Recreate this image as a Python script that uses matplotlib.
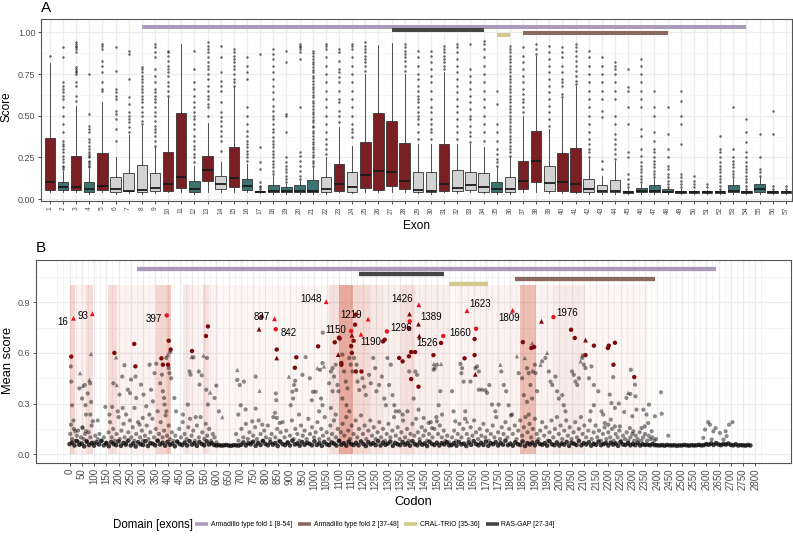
import numpy as np
import matplotlib
matplotlib.use("Agg")
import matplotlib.pyplot as plt
from matplotlib.lines import Line2D
from matplotlib.patches import Rectangle
from matplotlib.ticker import FixedLocator
from matplotlib import font_manager

plt.rcParams['font.family'] = ['Liberation Sans', 'DejaVu Sans']


def has_font(name):
    try:
        font_manager.findfont(font_manager.FontProperties(family=name), fallback_to_default=False)
        return True
    except Exception:
        return False

# ------------------------------------------------------------------ data A
exons = list(range(1, 58))
exon_group = (list("RTRTRGGGGRRTRGRTTTTTTGRGRRRRGGRGGGTGRRGRRGGG") + ["T"] * 13)
q1 = [.052, .052, .052, .042, .052, .04, .046, .04, .046, .05, .066, .04, .106, .06, .072, .055, .04, .04, .04, .04,
      .04, .04, .05, .044, .068, .056, .076, .06, .042, .04, .048, .046, .052, .044, .04, .04, .06, .10, .046, .046,
      .044, .042, .042, .04, .036, .04, .04, .04, .038, .036, .036, .036, .04, .036, .04, .036, .036]
med = [.10, .072, .075, .06, .08, .06, .05, .055, .065, .09, .133, .06, .175, .09, .125, .08, .045, .05, .05, .05,
       .05, .06, .09, .075, .145, .17, .165, .11, .055, .05, .09, .065, .085, .07, .06, .06, .11, .23, .095, .105,
       .09, .06, .05, .05, .04, .05, .05, .045, .042, .04, .04, .04, .05, .04, .06, .04, .04]
q3 = [.365, .10, .26, .10, .275, .13, .158, .204, .156, .28, .515, .108, .26, .138, .31, .12, .05, .084, .072, .082,
      .112, .13, .21, .165, .34, .515, .47, .335, .165, .162, .33, .175, .162, .156, .104, .13, .23, .407, .198, .275,
      .305, .122, .082, .116, .05, .066, .082, .058, .05, .046, .046, .048, .086, .048, .09, .046, .046]
whislo = [.04, .04, .04, .03, .04, .03, .035, .03, .035, .04, .04, .03, .04, .04, .04, .04, .035, .03, .03, .03,
          .03, .03, .04, .035, .04, .04, .04, .04, .035, .03, .04, .035, .04, .035, .03, .03, .04, .04, .035, .035,
          .035, .03, .03, .03, .03, .03, .03, .03, .03, .03, .03, .03, .03, .03, .03, .03, .03]
whishi = [.814, .17, .56, .18, .585, .255, .385, .44, .315, .61, .93, .2, .455, .22, .67, .21, .055, .14, .09, .11,
          .19, .25, .43, .32, .75, .925, .935, .75, .33, .33, .76, .33, .33, .31, .19, .25, .5, .86, .42, .6,
          .68, .24, .14, .23, .06, .09, .12, .065, .06, .055, .055, .055, .12, .055, .13, .055, .055]
outliers = [
    [.86],
    [.18, .19, .2, .22, .24, .26, .28, .3, .32, .33, .35, .4, .45, .5, .55, .6, .62, .64, .66, .68, .7, .85, .91],
    [.59, .62, .68, .7, .75, .76, .77, .78, .79, .88, .9, .91, .92, .93, .94],
    [.19, .2, .21, .22, .23, .25, .26, .27, .28, .3, .32, .34, .36, .4, .42, .44, .51, .75],
    [.65, .66, .7, .76, .8, .83, .9, .92, .93],
    [.35, .42, .48, .51, .53, .6, .62, .64, .66, .77, .91],
    [.4, .43, .46, .48, .5, .52, .57, .61, .72, .87, .89],
    [.45, .47, .5, .52, .55, .58, .6, .62, .64, .66, .68, .7, .72, .74, .76, .78, .79],
    [.32, .35, .38, .4, .42, .44, .47, .5, .52, .55, .58, .6, .62, .64, .66, .7, .74, .78, .85, .88, .91, .93],
    [.62, .65, .68, .7, .74, .76, .78, .8, .83, .86, .88, .89],
    [],
    [.22, .25, .27, .3, .32, .35, .38, .42, .45, .48, .5, .52, .55, .58, .62, .66, .7, .78, .89],
    [.5, .55, .57, .6, .62, .65, .68, .72, .75, .78, .8, .82, .85, .88, .9, .92, .94],
    [.29, .35, .38, .41, .44, .47, .49, .52, .58, .65, .68, .71, .76, .85, .92],
    [.68, .7, .72, .75, .78, .8, .82, .84, .86, .88, .9],
    [.23, .25, .27, .29, .31, .33, .35, .38, .41, .45, .5, .55, .72, .76, .8, .85],
    [.06, .07, .08, .1, .18, .22, .31, .87],
    [.15, .17, .19, .21, .23, .25, .27, .29, .31, .33, .35, .37, .4, .42, .45, .48, .5, .53, .56, .6, .64, .68, .72,
     .76, .8, .84, .87, .9],
    [.1, .12, .14, .16, .18, .2, .22, .25, .4, .5, .51, .82, .89],
    [.12, .14, .17, .2, .23, .26, .28, .55, .84, .88, .9, .91, .92, .93],
    [.2, .215, .23, .25, .265, .28, .3, .31, .33, .345, .36, .38, .395, .41, .43, .44, .46, .475, .49, .51, .525, .54,
     .56, .575, .59, .61, .625, .64, .66, .675, .69, .71, .725, .74, .76, .775, .79, .81, .825, .84, .86, .875, .89],
    [.27, .3, .33, .36, .4, .45, .5, .55, .6, .65, .7, .75, .8, .85, .9, .92, .93],
    [.46, .5, .53, .58, .6, .65, .7, .73, .76, .78, .83, .88, .9],
    [.37, .4, .42, .45, .5, .55, .6, .65, .7, .75, .8, .85, .9, .92, .93],
    [.77, .8, .82, .84, .86, .88, .9, .92, .94],
    [],
    [],
    [.77, .8, .83, .85, .87, .89, .91, .93],
    [.36, .4, .45, .48, .5, .52, .55, .58, .6, .62, .65, .68, .72, .75, .8, .85, .89],
    [.36, .4, .42, .45, .48, .52, .55, .6, .65, .7, .74, .78, .82, .86, .89],
    [.78, .8, .82, .84, .86, .88, .9, .92],
    [.36, .4, .44, .48, .52, .56, .6, .64, .68, .72, .76, .8, .84, .88, .91, .93],
    [.34, .38, .4, .44, .48, .5, .54, .58, .62, .66, .7, .74, .78, .93],
    [.35, .4, .45, .5, .55, .6, .65, .7, .75, .8, .85, .9, .93, .95],
    [.2, .22, .24, .27, .3, .35, .4, .45, .57, .65],
    [.26, .28, .3, .32, .34, .36, .38, .4, .42, .44, .46, .48, .5, .52, .54, .56, .58, .6, .62, .64, .66, .68, .7,
     .72, .74, .76, .78, .8, .82, .84, .86, .88, .9, .92],
    [.52, .55, .58, .6, .63, .66, .7, .74, .78, .82, .86, .91],
    [.87, .9, .93],
    [.44, .48, .52, .56, .6, .64, .68, .72, .76, .8, .84, .88, .92],
    [.61, .63, .68, .7, .72, .76, .8, .85, .88, .91],
    [.69, .71, .74, .77, .8, .83, .86, .89, .91, .93],
    [.25, .28, .3, .33, .36, .4, .45, .5, .55, .6, .65, .7, .75, .8, .85, .89],
    [.18, .23, .49, .53, .6, .65, .7, .75, .8, .85],
    [.24, .27, .3, .33, .36, .39, .45, .5, .6, .65, .7, .75, .78, .8, .82],
    [.07, .09, .12, .15, .25, .28, .45, .55, .65, .67, .78],
    [.1, .12, .14, .16, .18, .2, .22, .26, .3, .38, .42, .55, .6, .65, .7, .75, .8, .84],
    [.13, .15, .17, .19, .21, .23, .25, .28, .3, .35, .4, .5, .55, .65],
    [.07, .09, .11, .13, .15, .18, .2, .25, .3, .39, .55],
    [.07, .09, .11, .13, .15, .33, .45, .5, .59, .65],
    [.07, .09, .11, .14],
    [.07, .09],
    [.06, .08, .1, .12, .14, .16, .18, .2, .22, .25, .28, .3, .38],
    [.13, .15, .17, .19, .21, .23, .25, .3, .55],
    [.06, .08, .1, .12, .14, .16, .18, .2, .22, .25, .28, .34, .4, .48],
    [.14, .16, .18, .25, .39],
    [.06, .08, .39, .53],
    [.06, .08],
]

# ------------------------------------------------------------------ domains
dom_labels = ["Armadillo type fold 1 [8-54]", "Armadillo type fold 2 [37-48]",
              "CRAL-TRIO [35-36]", "RAS-GAP [27-34]"]
dom_exon_start = [8, 37, 35, 27]
dom_exon_end = [54, 48, 36, 34]
dom_codon_start = [276, 1818, 1550, 1180]
dom_codon_end = [2641, 2389, 1707, 1527]

# ------------------------------------------------------------------ data B
shade_start = [0, 22, 68, 158, 194, 353, 394, 462, 493, 545, 568, 612, 668, 750, 1061, 1102, 1157, 1228, 1282,
               1352, 1411, 1548, 1582, 1841, 1904, 1973, 2104]
shade_end = [22, 68, 95, 194, 353, 394, 416, 493, 545, 568, 612, 668, 750, 1061, 1102, 1157, 1228, 1282, 1352,
             1411, 1548, 1582, 1841, 1904, 1973, 2104, 2361]
shade_level = [0.26, 0.08, 0.22, 0.22, 0.08, 0.26, 0.34, 0.15, 0.08, 0.2, 0.08, 0.04, 0.06, 0.05, 0.2, 0.55,
               0.24, 0.15, 0.1, 0.2, 0.1, 0.03, 0.08, 0.42, 0.08, 0.13, 0.05]

# per-10-codon baseline scores (thousandths)
base_score = [v / 1000 for v in [
    60, 69, 52, 78, 56, 63, 47, 74, 55, 66, 51, 70, 58, 79, 53, 65, 48, 72, 61, 54, 76, 50, 67, 57, 81, 52, 64, 46,
    71, 59, 55, 77, 49, 66, 62, 53, 80, 58, 68, 51, 73, 56, 63, 47, 75, 60, 54, 69, 52, 78, 57, 65, 50, 72, 61, 53,
    76, 58, 66, 55,
    52, 54, 51, 53, 55, 52, 50, 54, 53, 51,
    56, 70, 52, 65, 59, 74, 50, 67, 55, 78, 61, 53, 71, 57, 66, 49, 75, 60, 54, 69, 52, 80, 58, 64, 51, 72, 56, 68,
    62, 53, 77, 55, 66, 50, 73, 59, 54, 70, 63, 52, 79, 57, 65, 51, 74, 60, 55, 68, 53, 76, 61, 49, 71, 58, 66, 54,
    78, 52, 69, 56, 63, 75, 50, 67, 59, 54, 72, 57, 65, 51, 77, 60, 53, 70, 56, 64, 49, 74, 61, 55, 68, 52, 66, 58,
    71, 53,
    54, 66, 51, 73, 58, 63, 49, 70, 56, 78, 61, 53, 68, 55, 75, 50, 65, 59, 72, 52, 67, 57, 80, 54, 63, 51, 71, 60,
    55, 76, 49, 66, 58, 69, 53, 74, 61, 56, 65, 51, 77, 59, 54, 70, 52, 64, 57, 73, 50, 68, 62, 55, 79, 53, 66, 58,
    71, 51, 63, 56, 75, 54, 60, 67, 52, 69, 57, 64, 50, 72, 58, 55, 66, 53, 61, 54, 68, 52, 59, 55, 57, 53, 60, 54,
    53, 52, 54, 51, 55, 53, 52, 54, 50, 53, 52, 55, 53, 51, 54, 52, 53, 56, 52, 54, 60, 56, 63, 55, 66, 58, 54, 61,
    57, 64, 55, 53, 59, 52, 54, 53, 51, 55, 52]]
base_codon = [10 * i for i in range(len(base_score))]

gray_circles = [
    (5, .52), (7, .43), (10, .29), (16, .20), (6, .175), (24, .136), (40, .39), (51, .33), (62, .41), (65, .29),
    (67, .235), (74, .36), (84, .42), (88, .31), (85, .235), (95, .195), (67, .136), (54, .155), (115, .20),
    (146, .28), (174, .28), (179, .42), (163, .235), (204, .353), (215, .46), (224, .527), (238, .382), (247, .362),
    (251, .442), (269, .46), (272, .333), (265, .274), (217, .274), (231, .235), (197, .254), (292, .412),
    (302, .353), (313, .284), (327, .53), (333, .382), (347, .48), (354, .536), (370, .42), (377, .471), (381, .373),
    (386, .333), (388, .294), (395, .57), (411, .604), (405, .51), (408, .48), (415, .45), (395, .254), (360, .254),
    (340, .313), (326, .235), (299, .215), (286, .175), (428, .333), (435, .254), (463, .235), (483, .294),
    (490, .49), (494, .471), (506, .574), (515, .22), (528, .49), (531, .412), (540, .467), (561, .57), (565, .294),
    (558, .382), (599, .406), (592, .333), (610, .254),
    (685, .44), (695, .41), (712, .43), (699, .29), (689, .235), (719, .265), (760, .46), (760, .27), (746, .195),
    (787, .175), (842, .36), (844, .32), (839, .245), (846, .215), (858, .185), (903, .29), (910, .37), (917, .41),
    (921, .435), (926, .38), (913, .33), (937, .235), (951, .47), (964, .575), (981, .45), (989, .32), (994, .37),
    (1005, .37), (1023, .50), (1033, .54), (1027, .33), (1033, .29), (1019, .254), (1034, .72), (1060, .42),
    (1067, .49), (1074, .51), (1080, .46), (1087, .53), (1074, .373), (1094, .41), (1098, .373), (1067, .274),
    (1087, .235), (1114, .59), (1121, .49), (1128, .43), (1135, .39), (1142, .57), (1148, .53), (1155, .49),
    (1114, .33), (1131, .29), (1142, .254), (1162, .57), (1172, .53), (1176, .43), (1183, .38), (1196, .45),
    (1203, .40), (1210, .35), (1223, .47), (1230, .42), (1240, .57), (1248, .51), (1253, .373), (1264, .41),
    (1275, .46), (1285, .33), (1292, .29), (1298, .57), (1305, .41), (1312, .53), (1319, .35), (1326, .29),
    (1332, .254), (1346, .254), (1360, .235), (1380, .254), (1387, .49),
    (1412, .49), (1419, .47), (1405, .33), (1425, .264), (1446, .215), (1466, .185), (1487, .50), (1491, .51),
    (1500, .53), (1514, .373), (1521, .235), (1507, .29), (1500, .195), (1480, .155), (1562, .373), (1568, .254),
    (1575, .195), (1596, .535), (1603, .51), (1600, .48), (1609, .43), (1616, .254), (1637, .43), (1657, .51),
    (1664, .52), (1671, .49), (1671, .382), (1684, .382), (1698, .378), (1705, .363), (1714, .41), (1725, .294),
    (1739, .254), (1752, .294), (1763, .49), (1773, .41), (1783, .373), (1793, .29), (1807, .235), (1834, .48),
    (1848, .45), (1868, .51), (1875, .48), (1892, .49), (1900, .53), (1903, .48), (1882, .41), (1855, .35),
    (1868, .31), (1889, .33), (1909, .373), (1875, .235), (1930, .55), (1943, .57), (1957, .49), (1964, .43),
    (1971, .41), (1984, .46), (1991, .373), (1998, .33), (2012, .35), (2018, .29), (2025, .254), (2052, .49),
    (2059, .47), (2066, .43), (2073, .41), (2080, .45), (2093, .57), (2096, .585), (2100, .53), (2107, .51),
    (2121, .45), (2131, .52), (2141, .41), (2141, .29), (2128, .254),
    (2159, .373), (2206, .353), (2213, .303), (2227, .274), (2220, .457), (2243, .30), (2265, .25), (2274, .333),
    (2292, .50), (2290, .357), (2298, .225), (2309, .412), (2311, .343), (2315, .264), (2343, .264), (2356, .235),
    (2366, .294), (2390, .225), (2415, .367), (2418, .24), (2445, .11), (2172, .254), (2179, .235), (2186, .185),
    (2200, .175), (2210, .205), (2227, .165), (2247, .165), (2288, .155), (2302, .136), (2336, .155), (2349, .165),
    (2363, .185), (2377, .136), (2595, .146), (2608, .19), (2615, .175), (2629, .136), (2638, .155), (2656, .126),
    (2679, .136), (2683, .107), (2693, .175), (2707, .19), (2588, .097), (2622, .087), (2670, .087),
    (3, .12), (10, .09), (18, .15), (25, .08), (30, .11), (35, .14), (40, .07), (47, .1), (52, .16), (58, .09),
    (63, .12), (70, .08), (78, .13), (85, .1), (90, .17), (98, .07), (105, .11), (115, .09), (122, .12), (130, .08),
    (140, .1), (150, .07), (160, .13), (165, .19), (172, .1), (178, .15), (185, .08), (192, .12), (200, .22),
    (205, .09), (212, .14), (220, .18), (225, .1), (232, .07), (240, .13), (246, .2), (252, .1), (258, .16),
    (265, .08), (272, .12), (280, .19), (288, .1), (295, .14), (300, .08), (308, .11), (315, .17), (322, .09),
    (330, .13), (338, .21), (345, .1), (352, .15), (358, .08), (365, .12), (372, .19), (380, .1), (386, .14),
    (392, .23), (398, .11), (405, .17), (410, .09), (418, .13), (425, .08), (432, .11), (440, .07), (448, .15),
    (455, .1), (462, .19), (470, .12), (478, .09), (485, .16), (492, .21), (498, .11), (505, .14), (512, .08),
    (520, .17), (528, .1), (535, .22), (542, .13), (550, .09), (556, .18), (562, .11), (570, .15), (578, .08),
    (585, .12), (592, .1), (600, .07),
    (680, .12), (690, .08), (702, .15), (710, .1), (720, .18), (728, .09), (735, .13), (742, .07), (750, .11),
    (758, .16), (765, .09), (772, .2), (780, .12), (788, .08), (795, .14), (802, .1), (810, .17), (818, .09),
    (825, .12), (832, .22), (840, .1), (848, .15), (855, .08), (862, .13), (870, .19), (878, .1), (885, .14),
    (892, .07), (900, .11), (908, .2), (915, .09), (922, .15), (930, .12), (938, .08), (945, .17), (952, .11),
    (960, .14), (968, .09), (975, .21), (982, .12), (990, .16), (998, .1), (1005, .13), (1012, .19), (1020, .09),
    (1028, .15), (1035, .11), (1042, .22), (1050, .13), (1058, .09), (1065, .17), (1072, .12), (1080, .2),
    (1088, .1), (1095, .15), (1102, .08), (1108, .13), (1115, .18), (1122, .11), (1130, .22), (1138, .14),
    (1145, .09), (1152, .17), (1160, .12), (1168, .2), (1175, .1), (1182, .15), (1190, .23), (1198, .12),
    (1205, .17), (1212, .09), (1220, .14), (1228, .2), (1235, .11), (1242, .16), (1250, .09), (1258, .13),
    (1265, .19), (1272, .1), (1280, .15), (1288, .08), (1295, .12), (1302, .18), (1310, .1), (1318, .14),
    (1325, .22), (1332, .11), (1340, .16), (1348, .09), (1355, .13), (1362, .2), (1370, .1), (1378, .15),
    (1385, .08), (1392, .12), (1400, .18), (1408, .11), (1415, .21), (1422, .13), (1430, .09), (1438, .16),
    (1445, .11), (1452, .14), (1460, .08), (1468, .12), (1475, .19), (1482, .1), (1490, .15), (1498, .22),
    (1505, .12), (1512, .17), (1520, .1), (1528, .14), (1535, .08), (1542, .11), (1550, .07),
    (1562, .1), (1570, .14), (1578, .08), (1585, .12), (1592, .18), (1600, .1), (1608, .15), (1615, .21),
    (1622, .12), (1630, .09), (1638, .16), (1645, .11), (1652, .2), (1660, .13), (1668, .09), (1675, .15),
    (1682, .11), (1690, .18), (1698, .1), (1705, .14), (1712, .08), (1720, .12), (1728, .17), (1735, .1),
    (1742, .22), (1750, .13), (1758, .09), (1765, .16), (1772, .12), (1780, .19), (1788, .1), (1795, .15),
    (1802, .23), (1810, .12), (1818, .17), (1825, .09), (1832, .14), (1840, .2), (1848, .11), (1855, .16),
    (1862, .22), (1870, .13), (1878, .18), (1885, .1), (1892, .15), (1900, .21), (1908, .12), (1915, .09),
    (1922, .14), (1930, .19), (1938, .11), (1945, .16), (1952, .08), (1960, .13), (1968, .2), (1975, .1),
    (1982, .15), (1990, .22), (1998, .12), (2005, .17), (2012, .09), (2020, .14), (2028, .2), (2035, .11),
    (2042, .16), (2050, .09), (2058, .13), (2065, .19), (2072, .1), (2080, .15), (2088, .22), (2095, .12),
    (2102, .17), (2110, .1), (2118, .14), (2125, .2), (2132, .09), (2140, .13), (2148, .17), (2155, .1),
    (2162, .14), (2170, .08), (2178, .12), (2185, .16), (2192, .09), (2200, .13), (2208, .1), (2215, .15),
    (2222, .08), (2230, .12), (2238, .1), (2245, .14), (2252, .08), (2260, .11), (2268, .09), (2275, .13),
    (2282, .08), (2290, .1), (2298, .12), (2305, .08), (2312, .11), (2320, .09), (2328, .13), (2335, .08),
    (2342, .1), (2350, .12), (2358, .08), (2365, .11), (2372, .09), (2380, .1), (2388, .08), (2395, .09),
]
gray_triangles = [
    (43, .48), (54, .405), (81, .44), (88, .594), (193, .41), (190, .574), (401, .59), (498, .576), (547, .584),
    (574, .366), (624, .22), (685, .50), (776, .376), (896, .46), (1012, .51), (1039, .52), (1487, .535),
    (1517, .535), (1623, .195), (1759, .53), (1827, .58), (1859, .57), (1889, .657), (1923, .53), (1950, .60),
    (2087, .55), (2281, .363),
]

hi_codon = [16, 93, 397, 837, 842, 1048, 1150, 1219, 1190, 1296, 1426, 1389, 1526, 1623, 1660, 1809, 1976]
hi_score = [.805, .832, .822, .802, .74, .903, .73, .80, .71, .727, .885, .787, .70, .85, .743, .852, .812]
hi_tri = [1, 1, 0, 1, 0, 1, 0, 1, 1, 0, 1, 0, 0, 1, 0, 1, 0]
hi_text = [str(c) for c in hi_codon]
label_pos = [(-27, .783), (55, .817), (344, .80), (784, .815), (893, .716), (985, .92), (1087, .734),
             (1150, .822), (1230, .663), (1353, .747), (1358, .919), (1478, .81), (1460, .657), (1675, .891),
             (1594, .718), (1793, .806), (2032, .836)]

dark_circles = [
    (7, .578), (183, .60), (264, .653), (269, .52), (375, .568), (381, .53), (402, .53), (405, .672), (413, .62),
    (500, .611), (557, .70), (565, .757), (784, .814), (846, .62), (926, .574), (920, .512), (1015, .639),
    (1100, .69), (1103, .685), (1083, .663), (1110, .54), (1110, .53), (1166, .767), (1160, .672), (1150, .64),
    (1153, .60), (1169, .49), (1192, .49), (1168, .826), (1287, .678), (1280, .668), (1346, .57), (1360, .55),
    (1386, .745), (1395, .605), (1411, .605), (1386, .58), (1486, .587), (1395, .445), (1425, .40), (1517, .659),
    (1654, .682), (1654, .587), (1613, .568), (1851, .664), (1886, .629), (1897, .635), (2048, .737),
    (2063, .688), (2107, .587), (2141, .643), (2198, .629), (2202, .643), (2227, .66), (2221, .53), (2306, .457),
]
dark_triangles = [
    (774, .74), (846, .57), (1097, .59), (1153, .704), (1388, .83), (1425, .77), (1428, .70), (1657, .473),
    (1927, .787), (2107, .676),
]

# ------------------------------------------------------------------ styles
W, H = 793, 543
box_colors = {"R": "#7a1f23", "T": "#3b7371", "G": "#d3d3d3"}
dom_colors = ["#a99bb9", "#8a6a5d", "#d3c98b", "#454545"]
dom_y_a = [1.032, 0.996, 0.982, 1.014]
dom_y_b = [1.096, 1.037, 1.008, 1.067]
grid_c = "#ebebeb"
tick_c = "#4d4d4d"
border_c = "#555555"
shade_c = "#d6654e"

fig = plt.figure(figsize=(W / 100, H / 100), dpi=100)


def fx(px):
    return px / W


def fy(py):
    return 1 - py / H


# ================================================================= Panel A
axA = fig.add_axes([fx(41), fy(201), fx(791.5) - fx(41), fy(19) - fy(201)])
stats = []
for i, e in enumerate(exons):
    stats.append(dict(med=med[i], q1=q1[i], q3=q3[i], whislo=whislo[i], whishi=whishi[i],
                      fliers=outliers[i], label=str(e)))
bp = axA.bxp(stats, positions=exons, widths=0.8, patch_artist=True, showcaps=False,
             boxprops=dict(edgecolor="#333333", linewidth=0.6),
             medianprops=dict(color="#1a1a1a", linewidth=1.3),
             whiskerprops=dict(color="#333333", linewidth=0.6),
             flierprops=dict(marker="o", markersize=1.8, markerfacecolor="#333333",
                             markeredgecolor="none", alpha=0.75))
for patch, g in zip(bp["boxes"], exon_group):
    patch.set_facecolor(box_colors[g])
for med_line in bp["medians"]:
    med_line.set_solid_capstyle("butt")

for i in range(4):
    axA.plot([dom_exon_start[i], dom_exon_end[i]], [dom_y_a[i]] * 2, color=dom_colors[i], lw=2.9,
             solid_capstyle="butt", zorder=4)

axA.set_xlim(0.33, 57.43)
axA.set_ylim(-0.012, 1.08)
axA.set_xticks(exons)
axA.set_xticklabels([str(e) for e in exons], rotation=90, fontsize=4.8, color=tick_c)
axA.set_yticks([0, .25, .5, .75, 1.0])
axA.set_yticklabels(["0.00", "0.25", "0.50", "0.75", "1.00"], fontsize=6.5, color=tick_c)
axA.yaxis.set_minor_locator(FixedLocator([.125, .375, .625, .875]))
axA.set_axisbelow(True)
axA.grid(True, which="major", color=grid_c, lw=0.9)
axA.grid(True, which="minor", axis="y", color="#f3f3f3", lw=0.5)
axA.tick_params(which="major", length=2.5, width=0.6, color="#333333", pad=1.5)
axA.tick_params(which="minor", length=0)
for s in axA.spines.values():
    s.set_color(border_c)
    s.set_linewidth(0.8)

# ================================================================= Panel B
axB = fig.add_axes([fx(36), fy(462.7), fx(791.5) - fx(36), fy(260) - fy(462.7)])
for s0, s1, lv in zip(shade_start, shade_end, shade_level):
    axB.add_patch(Rectangle((s0, 0), s1 - s0, 1.0, facecolor=shade_c, alpha=lv, edgecolor="none",
                            zorder=1))

axB.scatter(base_codon, base_score, s=11, c="black", alpha=0.75, edgecolors="none", zorder=2)
gc = np.array(gray_circles)
axB.scatter(gc[:, 0], gc[:, 1], s=9, c="black", alpha=0.45, edgecolors="none", zorder=2)
gt = np.array(gray_triangles)
axB.scatter(gt[:, 0], gt[:, 1], s=10, marker="^", c="black", alpha=0.45, edgecolors="none", zorder=2)
dc = np.array(dark_circles)
axB.scatter(dc[:, 0], dc[:, 1], s=10, c="#7d0a0a", edgecolors="none", zorder=3)
dt = np.array(dark_triangles)
axB.scatter(dt[:, 0], dt[:, 1], s=12, marker="^", c="#7d0a0a", edgecolors="none", zorder=3)
for c, sc, t in zip(hi_codon, hi_score, hi_tri):
    axB.scatter([c], [sc], s=12 if t else 10, marker="^" if t else "o", c="#e8131b",
                edgecolors="none", zorder=4)
for txt, (lx, ly) in zip(hi_text, label_pos):
    axB.text(lx, ly, txt, fontsize=7, ha="center", va="center", color="black", zorder=5)

for i in range(4):
    axB.plot([dom_codon_start[i], dom_codon_end[i]], [dom_y_b[i]] * 2, color=dom_colors[i], lw=3.1,
             solid_capstyle="butt", zorder=4)

axB.set_xlim(-137, 2948)
axB.set_ylim(-0.05, 1.15)
xt = list(range(0, 2801, 50))
axB.set_xticks(xt)
axB.set_xticklabels([str(v) for v in xt], rotation=90, fontsize=7.0, color=tick_c)
axB.xaxis.set_minor_locator(FixedLocator([-50, -25] + [v + 25 for v in xt]))
axB.set_yticks([0, .3, .6, .9])
axB.set_yticklabels(["0.0", "0.3", "0.6", "0.9"], fontsize=6.5, color=tick_c)
axB.yaxis.set_minor_locator(FixedLocator([.15, .45, .75, 1.05]))
axB.set_axisbelow(True)
axB.grid(True, which="major", color=grid_c, lw=0.9)
axB.grid(True, which="minor", color="#f1f1f1", lw=0.6)
axB.tick_params(which="major", length=2.5, width=0.6, color="#333333", pad=1.5)
axB.tick_params(which="minor", length=0)
for s in axB.spines.values():
    s.set_color(border_c)
    s.set_linewidth(0.8)

# ================================================================= text
fig.text(fx(41), fy(8), "A", fontsize=11, va="center", ha="left")
fig.text(fx(36), fy(248), "B", fontsize=11, va="center", ha="left")
fig.text(fx(7), fy(107), "Score", fontsize=8.5, rotation=90, va="center", ha="center")
fig.text(fx(416), fy(226), "Exon", fontsize=8.5, va="center", ha="center")
fig.text(fx(8), fy(360), "Mean score", fontsize=9.3, rotation=90, va="center", ha="center")
fig.text(fx(413), fy(502), "Codon", fontsize=9.3, va="center", ha="center")

if has_font("Liberation Sans Narrow"):
    leg_fam, leg_size = ["Liberation Sans Narrow", "DejaVu Sans"], 5.6
else:
    leg_fam, leg_size = ["Liberation Sans", "DejaVu Sans"], 4.9
fig.text(fx(113), fy(525), "Domain [exons]", fontsize=8.3, va="center", ha="left")
handles = [Line2D([0], [0], color=c, lw=2.6, solid_capstyle="butt") for c in dom_colors]
fig.legend(handles, dom_labels, loc="center left", bbox_to_anchor=(fx(195), fy(525)), ncol=4, frameon=False,
           prop=dict(family=leg_fam, size=leg_size), handlelength=1.9, handletextpad=0.4, columnspacing=0.9,
           borderpad=0, borderaxespad=0)

fig.savefig("out.png", dpi=100)
